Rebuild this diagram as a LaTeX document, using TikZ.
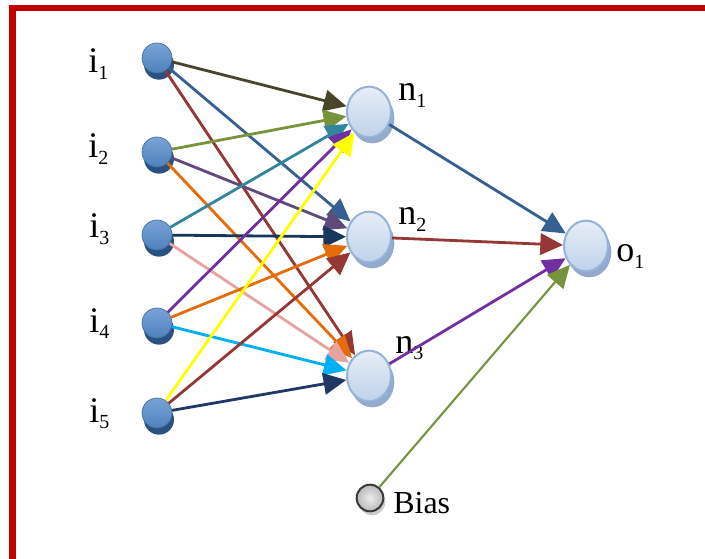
\documentclass[tikz,border=0pt]{standalone}
\usepackage{fontspec}
\setmainfont{Liberation Serif}
\usepackage{xcolor}
\usetikzlibrary{arrows.meta, positioning, shapes.geometric, shadows}

\definecolor{rahmenrot}{HTML}{C00000}
\definecolor{inblau}{HTML}{4F81BD}
\definecolor{inhell}{HTML}{7AA3D6}
\definecolor{inschatten}{HTML}{2B527F}
\definecolor{nhell}{HTML}{E6EEF8}
\definecolor{ndunkel}{HTML}{BFD2EA}
\definecolor{nrand}{HTML}{95B3D7}
\definecolor{nschatten}{HTML}{93AACB}
\definecolor{oliv}{HTML}{4A452A}
\definecolor{stahlblau}{HTML}{376092}
\definecolor{weinrot}{HTML}{953735}
\definecolor{gruen}{HTML}{77933C}
\definecolor{violett}{HTML}{604A7B}
\definecolor{orangeton}{HTML}{E46C0A}
\definecolor{petrol}{HTML}{31859C}
\definecolor{marine}{HTML}{17375E}
\definecolor{rosa}{HTML}{E6A3A1}
\definecolor{lila}{HTML}{7030A0}
\definecolor{himmel}{HTML}{00B0F0}
\definecolor{gelb}{HTML}{FFFF00}
\definecolor{navy}{HTML}{1F3864}

\newcommand{\idx}[1]{\raisebox{-5pt}{\fontsize{15}{15}\selectfont #1}}

\begin{document}
\begin{tikzpicture}[x=0.75pt, y=-0.75pt,
    eingang/.style={circle, minimum size=22.5pt, inner sep=0pt, top color=inhell, bottom color=inblau,
      draw=inblau!85!black, line width=0.5pt,
      drop shadow={shadow xshift=1.5pt, shadow yshift=-5pt, fill=inschatten, opacity=1}},
    neuron/.style={ellipse, minimum width=33pt, minimum height=38pt, inner sep=0pt, top color=nhell,
      bottom color=ndunkel, draw=nrand, line width=1.5pt,
      drop shadow={shadow xshift=2.5pt, shadow yshift=-4.5pt, fill=nschatten, opacity=1}},
    biasknoten/.style={circle, minimum size=20pt, inner sep=0pt, inner color=gray!15, outer color=gray!55,
      draw=gray!45!black, line width=1.5pt,
      drop shadow={shadow xshift=1.5pt, shadow yshift=-3pt, fill=gray!40, opacity=1}},
    beschr/.style={anchor=base west, inner sep=0pt, font=\fontsize{27}{30}\selectfont},
    pfeil/.style={-{Triangle[length=17pt, width=16pt]}, line width=2.1pt}
  ]
    \useasboundingbox (0,0) rectangle (705,559);
    \fill[white] (0,0) rectangle (705,559);
    \draw[rahmenrot, line width=5pt] (12.5,8) rectangle (740,590);

    \node[eingang] (i1) at (157,58) {};
    \node[eingang] (i2) at (157,152) {};
    \node[eingang] (i3) at (157,235) {};
    \node[eingang] (i4) at (157,323) {};
    \node[eingang] (i5) at (157,413) {};

    \node[neuron] (n1) at (369,112) {};
    \node[neuron] (n2) at (369,237) {};
    \node[neuron] (n3) at (369,376) {};
    \node[neuron] (o1) at (586,246) {};
    \node[biasknoten] (bias) at (370,498) {};

    \node[beschr] (li1) at (88,73) {i\idx{1}};
    \node[beschr] (li2) at (88,158) {i\idx{2}};
    \node[beschr] (li3) at (89,238) {i\idx{3}};
    \node[beschr] (li4) at (89,332) {i\idx{4}};
    \node[beschr] (li5) at (89,422) {i\idx{5}};
    \node[beschr] (ln1) at (398,101) {n\idx{1}};
    \node[beschr] (ln2) at (398,225) {n\idx{2}};
    \node[beschr] (ln3) at (395,353) {n\idx{3}};
    \node[beschr] (lo1) at (616,262) {o\idx{1}};
    \node[anchor=base west, inner sep=0pt, font=\fontsize{24}{27}\selectfont] (lbias) at (393,513) {Bias};

    \foreach \von/\nach/\farbe in {i1/n1/oliv, i1/n2/stahlblau, i1/n3/weinrot,
        i2/n1/gruen, i2/n2/violett, i2/n3/orangeton,
        i3/n1/petrol, i3/n2/marine, i3/n3/rosa,
        i4/n1/lila, i4/n2/orangeton, i4/n3/himmel,
        i5/n1/gelb, i5/n2/weinrot, i5/n3/navy} {
      \draw[pfeil, \farbe] (\von) -- (\nach);
    }
    \draw[pfeil, stahlblau] (n1) -- (o1);
    \draw[pfeil, weinrot] (n2) -- (o1);
    \draw[pfeil, lila] (n3) -- (o1);
    \draw[pfeil, gruen, line width=1.6pt] (bias) -- (o1);
  \end{tikzpicture}
\end{document}
